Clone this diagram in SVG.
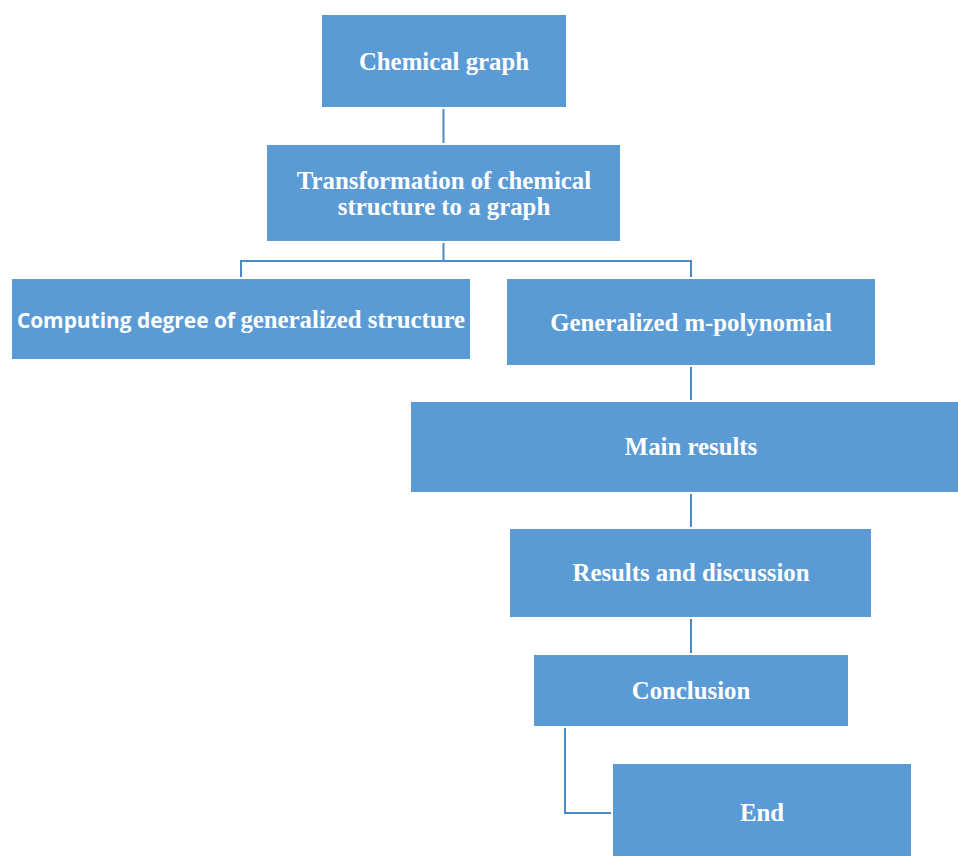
<svg xmlns="http://www.w3.org/2000/svg" width="958" height="856" viewBox="0 0 958 856">
<style>
.box{fill:#5B9BD5;stroke:#fff;stroke-width:1}
.t{font-family:"Liberation Serif","Times New Roman",serif;font-weight:bold;font-size:24.8px;fill:#fff;text-anchor:middle}
.s{font-family:"Open Sans","Liberation Sans",sans-serif;font-weight:bold;font-size:20.9px}
.c{fill:none;stroke:#4F89C2;stroke-width:2}
</style>
<rect width="958" height="856" fill="#fff"/>
<g id="connectors">
<path class="c" d="M443.5 109V143"/>
<path class="c" d="M443.5 243V261M241 277V261H691V277"/>
<path class="c" d="M691 367V400"/>
<path class="c" d="M691 494V527"/>
<path class="c" d="M691 619V653"/>
<path class="c" d="M565 728V813H611"/>
</g>
<g id="n1"><rect class="box" x="321.5" y="14.5" width="245" height="93"/><text class="t" x="444" y="70">Chemical graph</text></g>
<g id="n2"><rect class="box" x="266.5" y="144.5" width="354" height="97"/><text class="t" x="444" y="189">Transformation of chemical</text><text class="t" x="444" y="215">structure to a graph</text></g>
<g id="n3"><rect class="box" x="11.5" y="278.5" width="459" height="81"/><text class="t" x="241" y="328"><tspan class="s">Computing degree of </tspan>generalized structure</text></g>
<g id="n4"><rect class="box" x="506.5" y="278.5" width="369" height="87"/><text class="t" x="691" y="331">Generalized m-polynomial</text></g>
<g id="n5"><rect class="box" x="410.5" y="401.5" width="548" height="91"/><text class="t" x="691" y="455">Main results</text></g>
<g id="n6"><rect class="box" x="509.5" y="528.5" width="362" height="89"/><text class="t" x="691" y="581">Results and discussion</text></g>
<g id="n7"><rect class="box" x="533.5" y="654.5" width="315" height="72"/><text class="t" x="691" y="699">Conclusion</text></g>
<g id="n8"><rect class="box" x="612.5" y="763.5" width="299" height="93"/><text class="t" x="762" y="821">End</text></g>
</svg>
